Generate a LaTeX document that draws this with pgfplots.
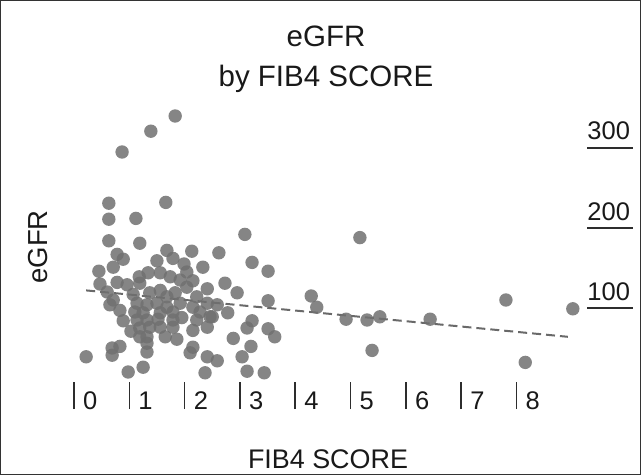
\documentclass[border=0pt]{standalone}
\usepackage{pgfplots}
\pgfplotsset{compat=1.18}
\usepackage{fontspec}
\setmainfont{Liberation Sans}
\definecolor{dotgray}{RGB}{112,112,112}
\definecolor{linegray}{RGB}{105,105,105}
\definecolor{tickdark}{RGB}{45,45,45}
\begin{document}
\begin{tikzpicture}[x=1pt,y=1pt]
\draw[line width=1pt, black!80] (0.5,0.5) rectangle (640.5,474.5);
\begin{axis}[
  at={(40.8pt,93pt)}, anchor=south west,
  scale only axis, width=546.4pt, height=278pt,
  xmin=-0.6, xmax=9.28, ymin=-2.5, ymax=345,
  axis line style={draw=none},
  xtick={0,1,2,3,4,5,6,7,8},
  ytick={100,200,300},
  xtick pos=bottom, ytick pos=right,
  tick align=outside,
  major tick length=27pt,
  xtick style={tickdark, line width=1.5pt},
  ytick style={draw=none},
  /pgf/number format/assume math mode=true,
  ticklabel style={font=\fontsize{25.5}{30}\selectfont, text=black!90},
  xticklabel style={anchor=base west, inner sep=0pt, xshift=9pt},
  yticklabel style={anchor=base west, inner sep=0pt, xshift=-27pt},
  yticklabel={\rlap{\color{tickdark}\rule[-8.75pt]{46pt}{1.5pt}}\pgfmathprintnumber{\tick}},
  clip=false,
]
\addplot[only marks, mark=*, color=dotgray, mark size=6.7pt, mark options={draw opacity=0, fill=dotgray, fill opacity=0.85}] coordinates {
(1.83,330) (1.39,311) (0.87,285) (1.66,222) (0.63,221) (0.63,201) (1.12,202)
(0.63,174) (1.19,171) (3.09,182) (0.78,157) (0.89,151) (1.68,162) (2.13,161)
(2.62,159) (1.79,152) (1.50,149) (3.22,147) (3.51,136) (0.45,136) (0.71,141)
(1.99,145) (2.33,141) (1.34,134) (1.18,129) (1.56,134) (2.04,135) (0.47,120)
(0.78,122) (0.96,119) (1.19,121) (1.74,129) (1.92,125) (2.15,124) (2.73,121)
(2.41,114) (2.95,109) (0.60,110) (0.71,100) (1.07,107) (1.37,109) (1.56,112)
(1.68,104) (2.04,116) (1.83,109) (2.22,104) (3.51,99) (2.59,94) (0.65,94)
(0.83,87) (1.14,96) (1.32,94) (1.50,96) (1.68,91) (1.92,96) (2.15,91)
(2.41,96) (2.78,84) (1.10,85) (1.25,84) (1.56,84) (1.79,85) (2.28,85)
(2.46,79) (0.89,74) (1.14,75) (1.32,75) (1.52,76) (1.79,75) (1.95,78)
(2.22,75) (2.41,66) (2.50,79) (3.22,74) (3.13,65) (1.03,61) (1.19,65)
(1.37,66) (1.56,66) (1.79,66) (2.15,62) (3.51,64) (3.63,54) (1.19,54)
(1.32,54) (1.65,54) (1.86,51) (2.88,52) (1.32,46) (0.83,42) (0.69,40)
(0.69,31) (1.32,35) (2.15,41) (2.10,34) (3.20,42) (0.22,29) (2.41,29)
(2.59,24) (3.04,29) (0.98,10) (1.25,16) (2.37,9) (3.13,11) (3.44,9)
(5.17,178) (4.29,105) (4.39,91) (4.92,76) (5.30,75) (5.53,79) (5.39,37)
(6.44,76) (7.81,100) (8.16,22) (9.02,89)
};
\addplot[linegray, line width=2pt, dash pattern=on 9pt off 5pt] coordinates {(0.22,112) (8.93,54)};
\end{axis}
\node[anchor=base, font=\fontsize{29.5}{34}\selectfont, text=black!90] at (326,428) {eGFR};
\node[anchor=base, font=\fontsize{29.5}{34}\selectfont, text=black!90] at (326,388) {by FIB4 SCORE};
\node[anchor=base, rotate=90, font=\fontsize{27.5}{32}\selectfont, text=black!90] at (47,228) {eGFR};
\node[anchor=base, font=\fontsize{26.9}{31}\selectfont, text=black!90] at (328,7) {FIB4 SCORE};
\end{tikzpicture}
\end{document}
